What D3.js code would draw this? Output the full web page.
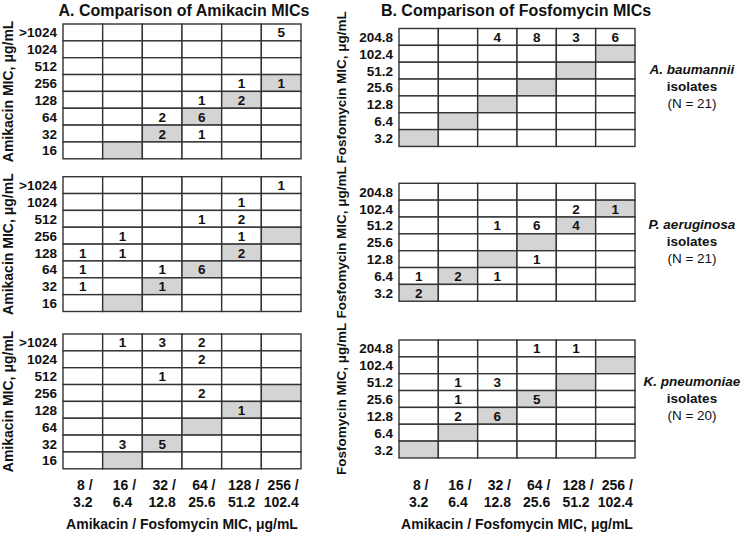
<!DOCTYPE html>
<html>
<head>
<meta charset="utf-8">
<script src="https://cdn.jsdelivr.net/npm/d3@7"></script>
<style>
  body { margin: 0; background: #fff; }
  svg text { font-family: Arial, "Liberation Sans", sans-serif; fill: #111; }
</style>
</head>
<body>
<div id="chart"></div>
<script>
// row / column labels
var amikacinRows = [">1024", "1024", "512", "256", "128", "64", "32", "16"];
var fosfoRows = ["204.8", "102.4", "51.2", "25.6", "12.8", "6.4", "3.2"];
var colAmikacin = ["8", "16", "32", "64", "128", "256"];
var colFosfo = ["3.2", "6.4", "12.8", "25.6", "51.2", "102.4"];

var species = ["A. baumannii", "P. aeruginosa", "K. pneumoniae"];
var speciesN = [21, 21, 20];

// counts, rows top->bottom, cols 8/3.2 ... 256/102.4 (0 = empty)
var abAmikacin = [
  [0, 0, 0, 0, 0, 5],
  [0, 0, 0, 0, 0, 0],
  [0, 0, 0, 0, 0, 0],
  [0, 0, 0, 0, 1, 1],
  [0, 0, 0, 1, 2, 0],
  [0, 0, 2, 6, 0, 0],
  [0, 0, 2, 1, 0, 0],
  [0, 0, 0, 0, 0, 0]
];
var paAmikacin = [
  [0, 0, 0, 0, 0, 1],
  [0, 0, 0, 0, 1, 0],
  [0, 0, 0, 1, 2, 0],
  [0, 1, 0, 0, 1, 0],
  [1, 1, 0, 0, 2, 0],
  [1, 0, 1, 6, 0, 0],
  [1, 0, 1, 0, 0, 0],
  [0, 0, 0, 0, 0, 0]
];
var kpAmikacin = [
  [0, 1, 3, 2, 0, 0],
  [0, 0, 0, 2, 0, 0],
  [0, 0, 1, 0, 0, 0],
  [0, 0, 0, 2, 0, 0],
  [0, 0, 0, 0, 1, 0],
  [0, 0, 0, 0, 0, 0],
  [0, 3, 5, 0, 0, 0],
  [0, 0, 0, 0, 0, 0]
];
var abFosfo = [
  [0, 0, 4, 8, 3, 6],
  [0, 0, 0, 0, 0, 0],
  [0, 0, 0, 0, 0, 0],
  [0, 0, 0, 0, 0, 0],
  [0, 0, 0, 0, 0, 0],
  [0, 0, 0, 0, 0, 0],
  [0, 0, 0, 0, 0, 0]
];
var paFosfo = [
  [0, 0, 0, 0, 0, 0],
  [0, 0, 0, 0, 2, 1],
  [0, 0, 1, 6, 4, 0],
  [0, 0, 0, 0, 0, 0],
  [0, 0, 0, 1, 0, 0],
  [1, 2, 1, 0, 0, 0],
  [2, 0, 0, 0, 0, 0]
];
var kpFosfo = [
  [0, 0, 0, 1, 1, 0],
  [0, 0, 0, 0, 0, 0],
  [0, 1, 3, 0, 0, 0],
  [0, 1, 0, 5, 0, 0],
  [0, 2, 6, 0, 0, 0],
  [0, 0, 0, 0, 0, 0],
  [0, 0, 0, 0, 0, 0]
];

var amikacinSets = [abAmikacin, paAmikacin, kpAmikacin];
var fosfoSets = [abFosfo, paFosfo, kpFosfo];

var svg = d3.select('#chart').append('svg')
  .attr('width', 750)
  .attr('height', 533);

var rowH = 16.85;
var lineCol = '#333';
var grayFill = '#d4d4d4';

// draws one grid; colVals = the drug values the diagonal is matched against
function drawGrid(x0, x1, y0, rows, colVals, data) {
  var x = d3.scaleBand().domain(d3.range(colVals.length)).range([x0, x1]);
  var y = d3.scaleBand().domain(rows).range([y0, y0 + rows.length * rowH]);
  var g = svg.append('g');

  var cells = [];
  rows.forEach(function (r, i) {
    colVals.forEach(function (c, j) {
      cells.push({ r: r, c: j, v: data[i][j], diag: r === c });
    });
  });

  g.selectAll('rect').data(cells).enter().append('rect')
    .attr('x', function (d) { return x(d.c); })
    .attr('y', function (d) { return y(d.r); })
    .attr('width', x.bandwidth())
    .attr('height', y.bandwidth())
    .attr('fill', function (d) { return d.diag ? grayFill : '#fff'; })
    .attr('stroke', lineCol)
    .attr('stroke-width', 1.4);

  g.selectAll('text.val').data(cells.filter(function (d) { return d.v > 0; }))
    .enter().append('text')
    .attr('class', 'val')
    .attr('x', function (d) { return x(d.c) + x.bandwidth() / 2; })
    .attr('y', function (d) { return y(d.r) + y.bandwidth() / 2 + 5; })
    .attr('text-anchor', 'middle')
    .style('font-weight', 'bold')
    .style('font-size', '13.5px')
    .text(function (d) { return d.v; });

  // row labels
  g.selectAll('text.row').data(rows).enter().append('text')
    .attr('class', 'row')
    .attr('x', x0 - 6)
    .attr('y', function (d) { return y(d) + y.bandwidth() / 2 + 5; })
    .attr('text-anchor', 'end')
    .style('font-weight', 'bold')
    .style('font-size', '13.5px')
    .text(function (d) { return d; });

  return { x: x, y: y };
}

// grid tops
var aTops = [24, 176.7, 334];
var bTops = [28.5, 183.3, 340];
var xA, xB;

aTops.forEach(function (t, i) {
  var s = drawGrid(63, 301, t, amikacinRows, colAmikacin, amikacinSets[i]);
  xA = s.x;
  svg.append('text')
    .attr('transform', 'translate(13,' + (t + amikacinRows.length * rowH / 2) + ') rotate(-90)')
    .attr('text-anchor', 'middle')
    .style('font-weight', 'bold')
    .style('font-size', '14px')
    .text('Amikacin MIC, μg/mL');
});

bTops.forEach(function (t, i) {
  var s = drawGrid(399, 635, t, fosfoRows, colFosfo, fosfoSets[i]);
  xB = s.x;
  svg.append('text')
    .attr('transform', 'translate(346,' + (t + fosfoRows.length * rowH / 2) + ') rotate(-90)')
    .attr('text-anchor', 'middle')
    .style('font-weight', 'bold')
    .style('font-size', '13.5px')
    .text('Fosfomycin MIC, μg/mL');

  // species label
  var lab = svg.append('text')
    .attr('text-anchor', 'middle')
    .style('font-size', '13.5px');
  var cy = t + fosfoRows.length * rowH / 2 - 1;
  lab.append('tspan').attr('x', 692).attr('y', cy - 12)
    .style('font-weight', 'bold').style('font-style', 'italic')
    .text(species[i]);
  lab.append('tspan').attr('x', 692).attr('y', cy + 5)
    .style('font-weight', 'bold')
    .text('isolates');
  lab.append('tspan').attr('x', 692).attr('y', cy + 22)
    .text('(N = ' + speciesN[i] + ')');
});

// x tick labels + axis titles
[xA, xB].forEach(function (x) {
  var xt = svg.append('g');
  colAmikacin.forEach(function (c, j) {
    var t = xt.append('text')
      .attr('text-anchor', 'middle')
      .style('font-weight', 'bold')
      .style('font-size', '14px');
    var cx = x(j) + x.bandwidth() / 2;
    t.append('tspan').attr('x', cx + 2).attr('y', 490).text(c + ' /');
    t.append('tspan').attr('x', cx).attr('y', 507).text(colFosfo[j]);
  });
  var r = x.range();
  svg.append('text')
    .attr('x', (r[0] + r[1]) / 2)
    .attr('y', 529)
    .attr('text-anchor', 'middle')
    .style('font-weight', 'bold')
    .style('font-size', '14px')
    .text('Amikacin / Fosfomycin MIC, μg/mL');
});

// titles
svg.append('text')
  .attr('x', 184).attr('y', 16)
  .attr('text-anchor', 'middle')
  .style('font-weight', 'bold')
  .style('font-size', '16px')
  .text('A. Comparison of Amikacin MICs');
svg.append('text')
  .attr('x', 516).attr('y', 16)
  .attr('text-anchor', 'middle')
  .style('font-weight', 'bold')
  .style('font-size', '16px')
  .text('B. Comparison of Fosfomycin MICs');
</script>
</body>
</html>
